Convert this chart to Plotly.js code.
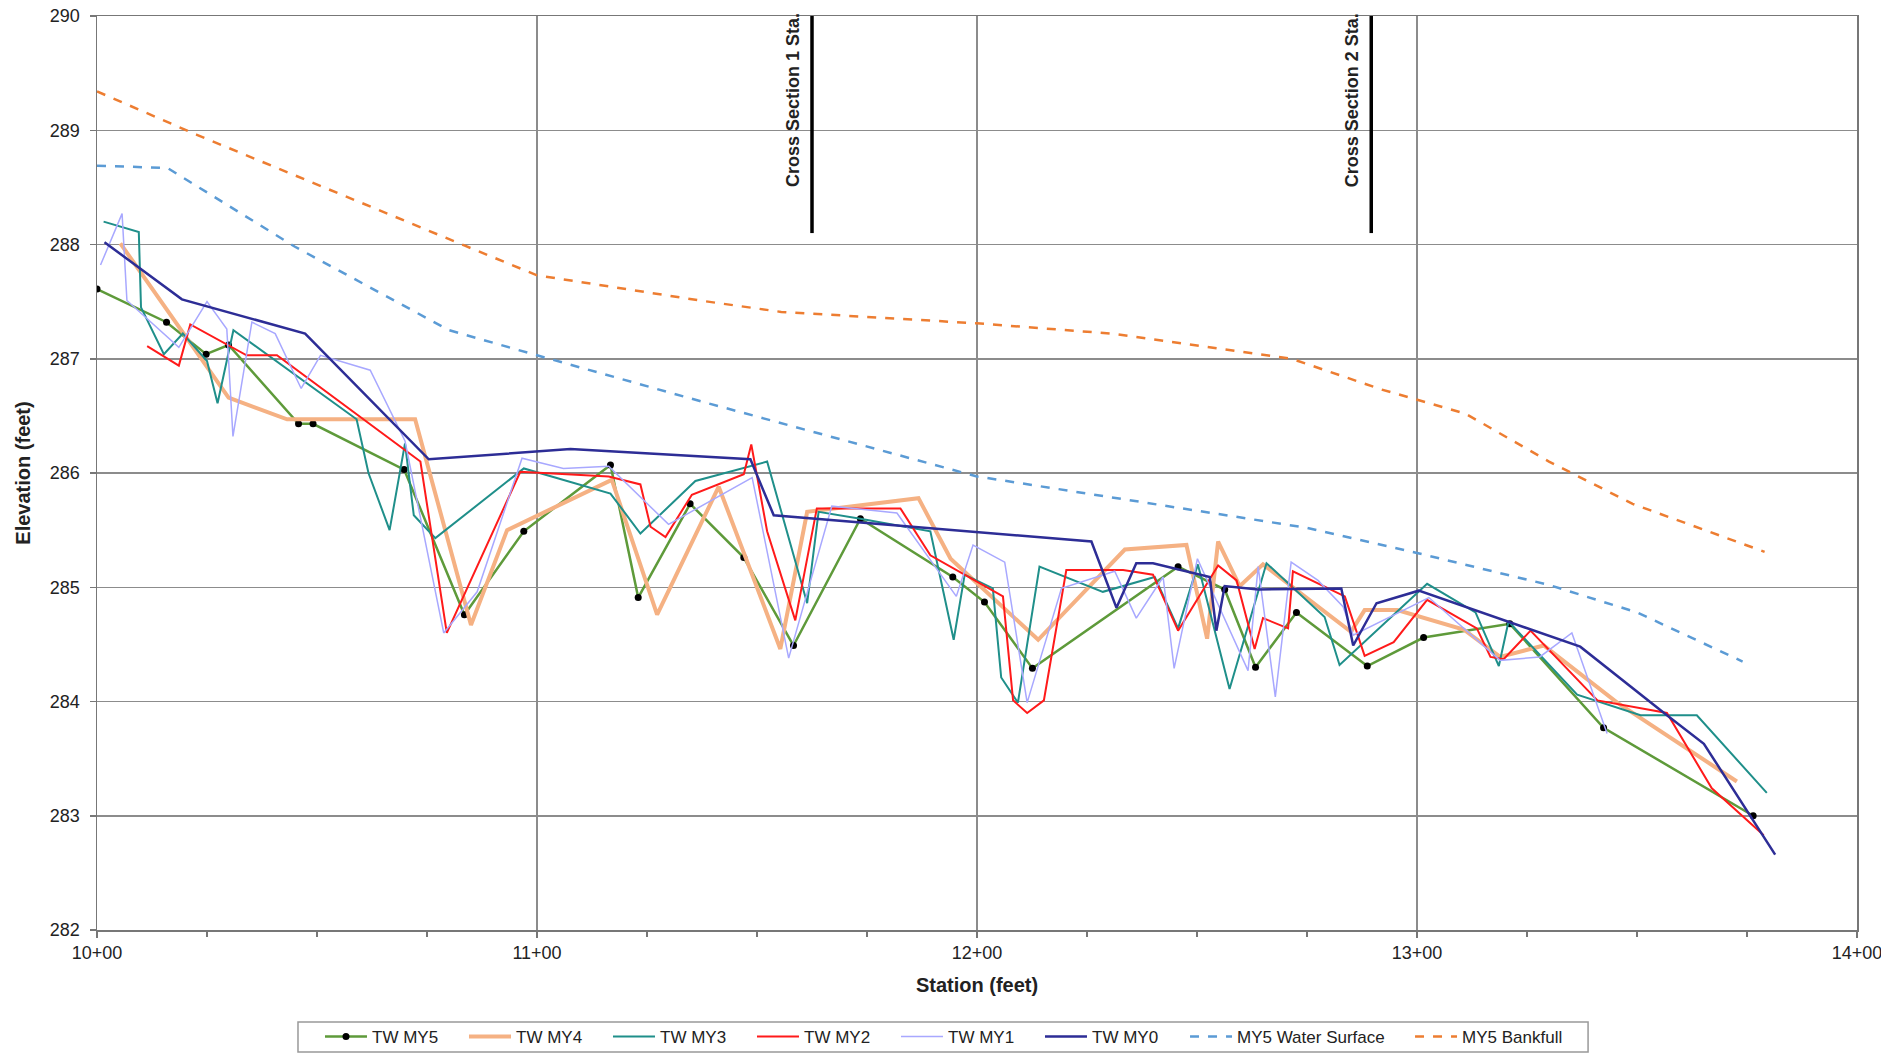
<!DOCTYPE html>
<html>
<head>
<meta charset="utf-8">
<script src="https://cdn.plot.ly/plotly-3.0.1.min.js"></script>
<style>html,body{margin:0;padding:0;background:#fff;}#chart{width:1881px;height:1053px;}</style>
</head>
<body>
<div id="chart"></div>
<script>
// ---- Data (station in feet, elevation in feet) ----
const my5Sta = [1000,1015.8,1024.8,1029.9,1045.8,1049.1,1069.8,1083.5,1097,1116.7,1123,1134.8,1147,1158.3,1173.5,1194.5,1201.7,1212.6,1245.7,1256.3,1263.3,1272.6,1288.7,1301.5,1321.1,1342.4,1376.4];
const my5Elev = [287.61,287.32,287.04,287.12,286.43,286.43,286.03,284.76,285.49,286.07,284.91,285.73,285.26,284.49,285.6,285.09,284.87,284.29,285.18,284.98,284.3,284.78,284.31,284.56,284.68,283.77,283.0];

const my4Sta = [1005.3,1029.9,1043.2,1072.3,1085,1093.2,1117,1127.3,1141.3,1155.3,1161.4,1186.7,1194,1213.9,1233.6,1247.6,1252.3,1254.8,1259.7,1265,1285,1288.1,1295.5,1310.6,1318.9,1328.8,1345.5,1372.7];
const my4Elev = [288.01,286.66,286.47,286.47,284.67,285.5,285.94,284.76,285.88,284.46,285.66,285.78,285.25,284.54,285.33,285.37,284.55,285.4,285.01,285.2,284.61,284.8,284.8,284.63,284.39,284.49,283.99,283.3];

const my3Sta = [1001.5,1009.5,1010,1015.2,1019.5,1025,1027.4,1031,1059,1061.7,1066.5,1070,1072,1076.9,1097,1116.7,1123.5,1136,1152.3,1161.4,1164,1173.5,1189.4,1194.7,1197.2,1203.6,1205.5,1209.3,1214.2,1228.6,1240.4,1245.7,1250.2,1257.4,1265.8,1279,1282.4,1302.3,1313.3,1318.6,1320.8,1336.4,1350.8,1363.6,1379.5];
const my3Elev = [288.2,288.11,287.45,287.04,287.22,286.98,286.61,287.25,286.47,286.0,285.5,286.26,285.63,285.43,286.04,285.82,285.47,285.93,286.1,284.86,285.66,285.6,285.49,284.54,285.11,284.99,284.21,283.99,285.18,284.96,285.09,284.64,285.2,284.11,285.21,284.74,284.32,285.03,284.78,284.31,284.7,284.06,283.88,283.88,283.2];

const my2Sta = [1011.4,1018.6,1021.2,1034,1040.9,1073.5,1079.5,1096.2,1116.3,1123.5,1125.8,1129.2,1135.2,1147,1148.7,1152.3,1158.7,1163.6,1182.6,1189.4,1205.9,1208.2,1211.4,1215.2,1220.3,1233.2,1240,1245.7,1254.8,1259,1263.1,1265,1270.7,1271.8,1283.6,1288.1,1294.7,1302.3,1313.6,1316.7,1319.7,1325.8,1341,1356.8,1367,1378.8];
const my2Elev = [287.11,286.94,287.3,287.03,287.03,286.1,284.6,286.01,285.97,285.9,285.53,285.44,285.81,285.99,286.25,285.49,284.71,285.69,285.69,285.28,284.92,284.01,283.9,284.01,285.15,285.15,285.11,284.62,285.19,285.06,284.46,284.73,284.64,285.14,284.92,284.4,284.52,284.89,284.64,284.39,284.37,284.62,284.01,283.9,283.24,282.83];

const my1Sta = [1000.8,1005.7,1006.8,1018.6,1025,1029.5,1030.9,1035.2,1040.5,1046.4,1050.8,1055.3,1062.1,1070,1078.8,1086.4,1096.6,1106,1116.3,1129.9,1148.9,1157.2,1167,1181.8,1195.3,1199.1,1206.3,1211.4,1219.2,1231.3,1236.2,1242.3,1244.8,1250.1,1261.6,1263.9,1267.8,1271.4,1277.5,1283.2,1285.5,1302.7,1318.9,1327.9,1335.2,1343.2];
const my1Elev = [287.82,288.27,287.51,287.1,287.5,287.26,286.32,287.32,287.22,286.74,287.03,286.98,286.9,286.28,284.6,284.96,286.13,286.04,286.06,285.55,285.96,284.38,285.71,285.65,284.92,285.37,285.22,283.99,284.99,285.14,284.73,285.09,284.29,285.25,284.27,285.18,284.04,285.22,285.06,284.83,284.58,284.91,284.36,284.39,284.6,283.72];

const my0Sta = [1001.7,1019.3,1047.3,1075.4,1107.6,1148.5,1153.8,1226,1231.7,1236.2,1240,1252.9,1254.4,1256.3,1263.9,1282.8,1285.5,1290.8,1300.4,1320.8,1337.1,1356.8,1365.2,1381.4];
const my0Elev = [288.02,287.52,287.22,286.12,286.21,286.12,285.63,285.4,284.82,285.21,285.21,285.09,284.62,285.01,284.98,284.99,284.49,284.86,284.97,284.7,284.48,283.88,283.63,282.66];

const wsSta = [1000,1016,1045,1080,1100,1137,1200,1245,1275,1300,1330,1350,1374];
const wsElev = [288.69,288.67,287.98,287.25,287.03,286.63,285.97,285.7,285.52,285.3,285.02,284.78,284.35];

const bkfSta = [1000,1022.7,1083.6,1100,1137,1155.5,1200,1230.6,1271.5,1292,1311,1330,1349,1379];
const bkfElev = [289.34,288.96,287.99,287.73,287.51,287.41,287.31,287.22,287.0,286.73,286.52,286.1,285.73,285.31];

const xsStations = [1162.5, 1289.6];
const xsLabels = ["Cross Section 1 Sta.", "Cross Section 2 Sta."];
const xsLineBottom = 288.1;

const xTickVals = [1000, 1100, 1200, 1300, 1400];
const xTickText = ["10+00", "11+00", "12+00", "13+00", "14+00"];

// ---- Traces ----
const FONT = "Liberation Sans, Arial, sans-serif";
const traces = [
  {x: my5Sta, y: my5Elev, name: "TW MY5", mode: "lines+markers", legend: "legend",
   line: {color: "#5E9A3A", width: 2.5}, marker: {color: "#000", size: 7}},
  {x: my4Sta, y: my4Elev, name: "TW MY4", mode: "lines", legend: "legend",
   line: {color: "#F5B183", width: 4}},
  {x: my3Sta, y: my3Elev, name: "TW MY3", mode: "lines", legend: "legend",
   line: {color: "#1F8F8A", width: 2}},
  {x: my2Sta, y: my2Elev, name: "TW MY2", mode: "lines", legend: "legend",
   line: {color: "#FF1A1A", width: 2}},
  {x: my1Sta, y: my1Elev, name: "TW MY1", mode: "lines", legend: "legend",
   line: {color: "#A8A8FF", width: 1.5}},
  {x: my0Sta, y: my0Elev, name: "TW MY0", mode: "lines", legend: "legend",
   line: {color: "#2D2D96", width: 2.5}},
  {x: wsSta, y: wsElev, name: "MY5 Water Surface", mode: "lines", legend: "legend2",
   line: {color: "#5B9BD5", width: 2.5, dash: "dash"}},
  {x: bkfSta, y: bkfElev, name: "MY5 Bankfull", mode: "lines", legend: "legend2",
   line: {color: "#ED7D31", width: 2.5, dash: "dash"}}
];

const shapes = xsStations.map(s => ({
  type: "line", xref: "x", yref: "y", x0: s, x1: s, y0: xsLineBottom, y1: 290.09,
  line: {color: "#000", width: 3.5}, layer: "above"
}));
// legend frame
shapes.push({type: "rect", xref: "paper", yref: "paper", x0: 0.1142, x1: 0.8472, y0: -0.1007, y1: -0.1335,
  line: {color: "#999", width: 1.5}, fillcolor: "rgba(0,0,0,0)"});

const annotations = xsStations.map((s, i) => ({
  x: s, xref: "x", y: 0.908, yref: "paper", text: xsLabels[i], showarrow: false,
  textangle: -90, xanchor: "right", yanchor: "middle", xshift: -7,
  font: {family: FONT, size: 18, color: "#222", weight: "bold"}
}));

const layout = {
  width: 1881, height: 1053,
  margin: {l: 97, r: 24, t: 16, b: 123, autoexpand: false},
  paper_bgcolor: "#fff", plot_bgcolor: "#fff",
  font: {family: FONT, color: "#222"},
  showlegend: true,
  legend: {orientation: "h", x: 0.1267, xanchor: "left", y: -0.117, yanchor: "middle",
    font: {family: FONT, size: 17, color: "#222"}, bgcolor: "rgba(0,0,0,0)", borderwidth: 0,
    itemwidth: 42, entrywidth: 87, entrywidthmode: "pixels", tracegroupgap: 0},
  legend2: {orientation: "h", x: 0.6182, xanchor: "left", y: -0.117, yanchor: "middle",
    font: {family: FONT, size: 17, color: "#222"}, bgcolor: "rgba(0,0,0,0)", borderwidth: 0,
    itemwidth: 42, entrywidth: 168, entrywidthmode: "pixels"},
  xaxis: {
    range: [1000, 1400], tickmode: "array", tickvals: xTickVals, ticktext: xTickText,
    ticks: "outside", ticklen: 6, tickcolor: "#777", tickwidth: 1.5, ticklabeloverflow: "allow",
    minor: {tickmode: "linear", tick0: 1000, dtick: 25, ticks: "outside", ticklen: 5, tickcolor: "#777", tickwidth: 1.5, showgrid: false},
    showgrid: true, gridcolor: "#8c8c8c", gridwidth: 1.5,
    showline: true, linecolor: "#777", linewidth: 1.5, mirror: true, zeroline: false,
    tickfont: {family: FONT, size: 18, color: "#222"},
    title: {text: "Station (feet)", standoff: 16, font: {family: FONT, size: 20, color: "#222", weight: "bold"}},
    automargin: false
  },
  yaxis: {
    range: [282, 290], dtick: 1, tick0: 282,
    ticks: "outside", ticklen: 6, tickcolor: "#777", tickwidth: 1.5, ticklabeloverflow: "allow",
    showgrid: true, gridcolor: "#8c8c8c", gridwidth: 1.5,
    showline: true, linecolor: "#777", linewidth: 1.5, mirror: true, zeroline: false,
    tickfont: {family: FONT, size: 18, color: "#222"}, ticklabelstandoff: 6,
    title: {text: "Elevation (feet)", standoff: 14, font: {family: FONT, size: 20, color: "#222", weight: "bold"}},
    automargin: false
  },
  shapes: shapes,
  annotations: annotations
};

Plotly.newPlot("chart", traces, layout, {displayModeBar: false, staticPlot: true});
</script>
</body>
</html>
